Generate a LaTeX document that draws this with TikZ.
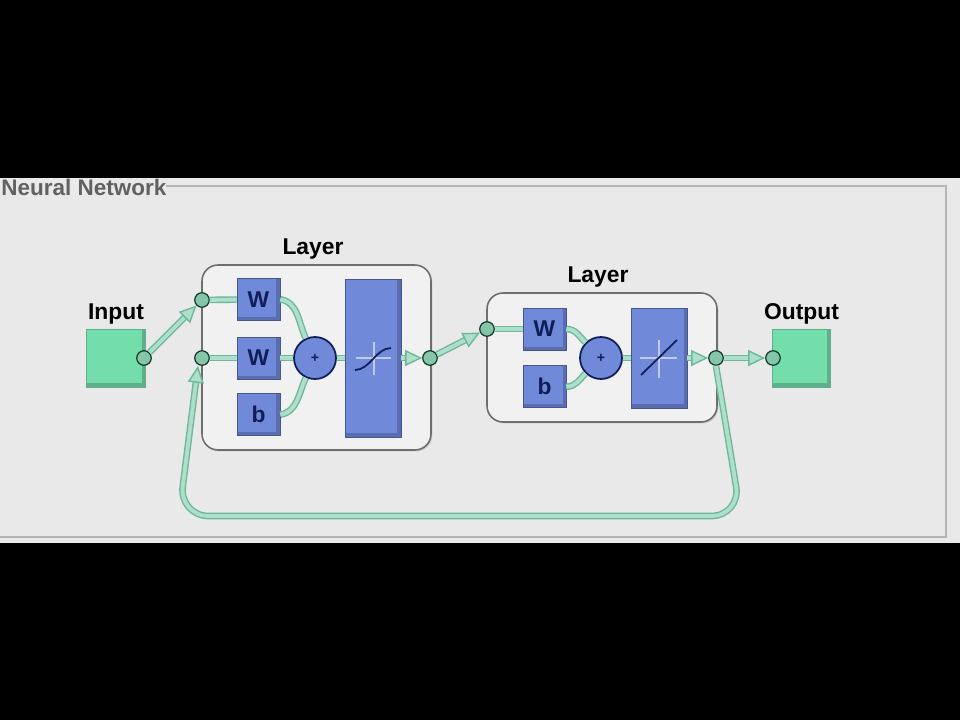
\documentclass[tikz,border=0pt]{standalone}
\usepackage{fontspec}
\setmainfont{Liberation Sans}
\usetikzlibrary{arrows.meta,positioning,calc,shadows}
\definecolor{Panel}{HTML}{E9E9E9}
\definecolor{PanelLine}{HTML}{B4B4B4}
\definecolor{Frame}{HTML}{6E6E6E}
\definecolor{FrameFill}{HTML}{F1F1F1}
\definecolor{Block}{HTML}{7089D9}
\definecolor{BlockDark}{HTML}{5A6DB0}
\definecolor{BlockLine}{HTML}{46568F}
\definecolor{Navy}{HTML}{101E58}
\definecolor{Mint}{HTML}{73DDAB}
\definecolor{MintDark}{HTML}{5FAF8B}
\definecolor{WireDark}{HTML}{6DB89A}
\definecolor{WireLight}{HTML}{AEDFCA}
\definecolor{PortFill}{HTML}{85C6A8}
\definecolor{PortLine}{HTML}{123B2C}
\tikzset{
  bevel/.style={path picture={
    \fill[#1] (path picture bounding box.south west) rectangle ([yshift=0.07cm]path picture bounding box.south east);
    \fill[#1] (path picture bounding box.south east) rectangle ([xshift=-0.07cm]path picture bounding box.north east);
  }},
  layerbox/.style={draw=Frame, fill=FrameFill, line width=0.9pt, rounded corners=0.32cm, drop shadow={shadow xshift=0.8pt, shadow yshift=-0.8pt, opacity=0.3}},
  weightbox/.style={draw=BlockLine, fill=Block, bevel=BlockDark, minimum width=0.86cm, minimum height=0.84cm, inner sep=0pt, font=\fontsize{13}{13}\selectfont\bfseries, text=Navy},
  transferbox/.style={draw=BlockLine, fill=Block, bevel=BlockDark, minimum width=1.12cm, inner sep=0pt},
  sumnode/.style={circle, draw=Navy, fill=Block, line width=1pt, minimum size=0.84cm, inner sep=0pt, font=\fontsize{8}{8}\selectfont\bfseries, text=Navy},
  iobox/.style={draw=MintDark, fill=Mint, bevel=MintDark, minimum width=1.17cm, minimum height=1.16cm, inner sep=0pt},
  portnode/.style={circle, draw=PortLine, fill=PortFill, line width=0.7pt, minimum size=0.29cm, inner sep=0pt},
  titlenode/.style={font=\fontsize{13}{13}\selectfont\bfseries, text=black, inner sep=0pt},
  wire/.style={draw=WireDark, double=WireLight, double distance=2.2pt, line width=0.8pt},
  flow/.style={wire, -{Triangle[length=3.4mm, width=3.2mm, fill=WireLight]}},
}
\begin{document}
\begin{tikzpicture}[x=0.02cm, y=-0.02cm]
  \useasboundingbox (0,0) rectangle (960,720);
  \fill[black] (0,0) rectangle (960,720);
  \fill[Panel] (0,178) rectangle (960,543);
  \draw[PanelLine, line width=0.7pt] (166,186) -- (946,186) -- (946,537) -- (0,537);
  \node[font=\fontsize{12.8}{13}\selectfont\bfseries, text=black!62, inner sep=0pt, anchor=west] (title) at (1,187) {Neural Network};

  \node[layerbox, minimum width=4.58cm, minimum height=3.7cm] (layerA) at (316.5,357.5) {};
  \node[layerbox, minimum width=4.6cm, minimum height=2.58cm] (layerB) at (602,357.5) {};
  \node[titlenode, above=0.09cm of layerA, xshift=-0.07cm] (layerAlabel) {Layer};
  \node[titlenode, above=0.1cm of layerB, xshift=-0.08cm] (layerBlabel) {Layer};

  \node[iobox] (input) at (116,358) {};
  \node[iobox] (output) at (801.5,358) {};
  \node[titlenode, above=0.08cm of input] (inputlabel) {Input};
  \node[titlenode, above=0.08cm of output] (outputlabel) {Output};

  \node[weightbox] (w2) at (258.5,358) {W};
  \node[weightbox, above=0.32cm of w2] (w1) {W};
  \node[weightbox, below=0.28cm of w2] (b1) {b};
  \node[sumnode] (sum1) at (315,358) {+};
  \node[transferbox, minimum height=3.16cm] (tf1) at (373,358) {};

  \node[weightbox] (w3) at (544.5,329) {W};
  \node[weightbox, below=0.3cm of w3] (b2) {b};
  \node[sumnode] (sum2) at (601,358) {+};
  \node[transferbox, minimum height=2cm] (tf2) at (659,358) {};

  \node[portnode] (pin) at (144,358) {};
  \node[portnode] (pa1) at (202,300) {};
  \node[portnode] (pa2) at (202,358) {};
  \node[portnode] (paout) at (430,358) {};
  \node[portnode] (pb1) at (487,329) {};
  \node[portnode] (pbout) at (716,358) {};
  \node[portnode] (pout) at (773,358) {};
  \coordinate (fbr) at (741,516);
  \coordinate (fbl) at (179,516);

  \draw[flow] (pin) -- (pa1);
  \draw[wire] (pa1) -- (w1);
  \draw[wire] (pa2) -- (w2);
  \draw[wire] (w2) -- (sum1);
  \draw[wire] (w1.east) to[out=-10, in=115] (sum1.115);
  \draw[wire] (b1.east) to[out=10, in=-115] (sum1.-115);
  \draw[wire] (sum1) -- (tf1);
  \draw[flow] (tf1) -- (paout);
  \draw[flow] (paout) -- (pb1);
  \draw[wire] (pb1) -- (w3);
  \draw[wire] (w3.east) to[out=0, in=135] (sum2.north west);
  \draw[wire] (b2.east) to[out=0, in=-135] (sum2.south west);
  \draw[wire] (sum2) -- (tf2);
  \draw[flow] (tf2) -- (pbout);
  \draw[flow] (pbout) -- (pout);
  \draw[flow, rounded corners=0.6cm] (pbout.south) -- (fbr) -- (fbl) -- ([xshift=-0.08cm]pa2.south);

  \draw[white!55!Block, line width=0.6pt] ($(tf1.center)+(-17,0)$) -- ($(tf1.center)+(18,0)$);
  \draw[white!55!Block, line width=0.6pt] ($(tf1.center)+(1,-16)$) -- ($(tf1.center)+(1,17)$);
  \draw[Navy, line width=1pt] ($(tf1.center)+(-18,12)$) .. controls ($(tf1.center)+(-3,12)$) and ($(tf1.center)+(3,-10)$) .. ($(tf1.center)+(18,-10)$);
  \draw[white!55!Block, line width=0.6pt] ($(tf2.center)+(-19,0)$) -- ($(tf2.center)+(18,0)$);
  \draw[white!55!Block, line width=0.6pt] ($(tf2.center)+(0,-18)$) -- ($(tf2.center)+(0,20)$);
  \draw[Navy, line width=1pt] ($(tf2.center)+(-18,17)$) -- ($(tf2.center)+(18,-18)$);
\end{tikzpicture}
\end{document}
